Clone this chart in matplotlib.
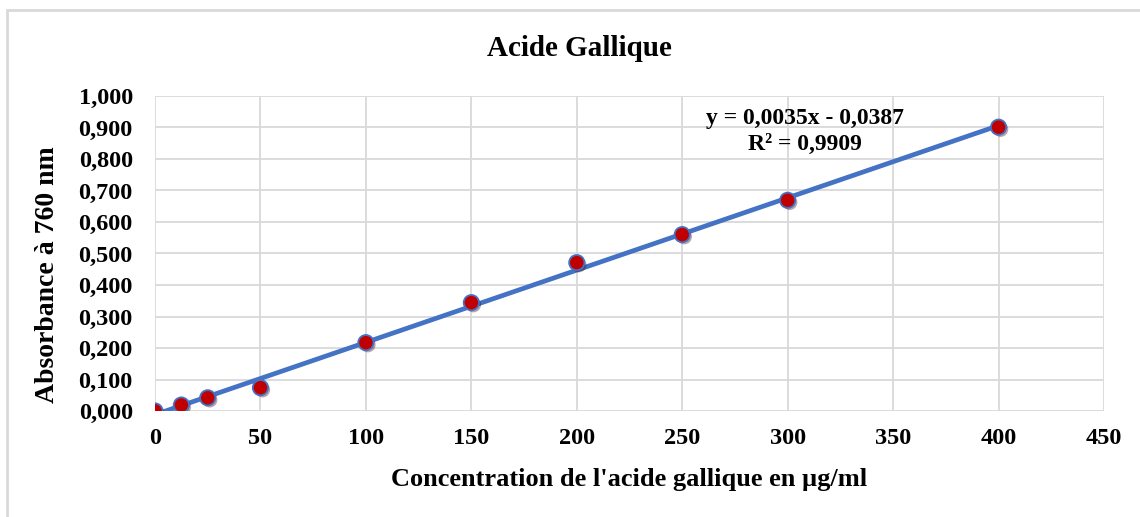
import matplotlib.pyplot as plt
import matplotlib.patheffects as pe
from matplotlib.patches import Rectangle
from matplotlib.ticker import FuncFormatter
import numpy as np

# concentrations (µg/ml) and absorbances
concentration = [0, 12.5, 25, 50, 100, 150, 200, 250, 300, 400]
absorbance = [0.000, 0.019, 0.042, 0.074, 0.217, 0.344, 0.471, 0.560, 0.669, 0.901]
equation = "y = 0,0035x - 0,0387"
r2_text = "R² = 0,9909"

plt.rcParams['font.family'] = ['Liberation Serif', 'DejaVu Serif']
plt.rcParams['font.weight'] = 'bold'

fig = plt.figure(figsize=(11.4, 5.17), dpi=100)
# light border of the chart frame (only top/left visible in reference)
fig.patches.append(Rectangle((7 / 1140, -0.1), 1.2, (517 - 10) / 517 + 0.1,
                             transform=fig.transFigure, fill=False,
                             edgecolor='#d9d9d9', linewidth=2))

ax = fig.add_axes([155 / 1140, (517 - 411) / 517, (1104 - 155) / 1140, (411 - 96) / 517])

# trend line from a linear fit of the points
coef = np.polyfit(concentration, absorbance, 1)
xs = np.array([concentration[0], concentration[-1]])
ax.plot(xs, np.polyval(coef, xs), color='#4472c4', linewidth=3.4, zorder=3,
        solid_capstyle='round')

ax.plot(concentration, absorbance, linestyle='none', marker='o', markersize=11,
        markerfacecolor='#c00000', markeredgecolor='#4472c4', markeredgewidth=1.3,
        zorder=4,
        path_effects=[pe.SimplePatchShadow(offset=(1.5, -1.5), alpha=0.35),
                      pe.Normal()])

ax.set_xlim(0, 450)
ax.set_ylim(0, 1.0)
ax.set_xticks(np.arange(0, 451, 50))
ax.set_yticks(np.arange(0, 1.01, 0.1))
ax.yaxis.set_major_formatter(FuncFormatter(lambda v, p: f"{v:.3f}".replace('.', ',')))
ax.grid(True, color='#d9d9d9', linewidth=1.3)
ax.set_axisbelow(True)
for s in ax.spines.values():
    s.set_visible(False)
ax.tick_params(length=0, labelsize=17.5)
ax.tick_params(axis='y', pad=16)
ax.tick_params(axis='x', pad=12)

# title is centred on the chart area, not on the plot area
fig.text(579 / 1140, (517 - 48) / 517, "Acide Gallique", ha='center', va='center',
         fontsize=21, fontweight='bold')
ax.set_xlabel("Concentration de l'acide gallique en µg/ml", fontsize=19,
              fontweight='bold', labelpad=14)
ax.set_ylabel("Absorbance à 760 nm", fontsize=20, fontweight='bold')
ax.yaxis.set_label_coords(-0.1, (411 - 275) / 315)

ax.text(308, 0.927, equation, ha='center', va='center', fontsize=17, fontweight='bold')
ax.text(308, 0.847, r2_text, ha='center', va='center', fontsize=17, fontweight='bold')

fig.savefig('out.png', dpi=100)
